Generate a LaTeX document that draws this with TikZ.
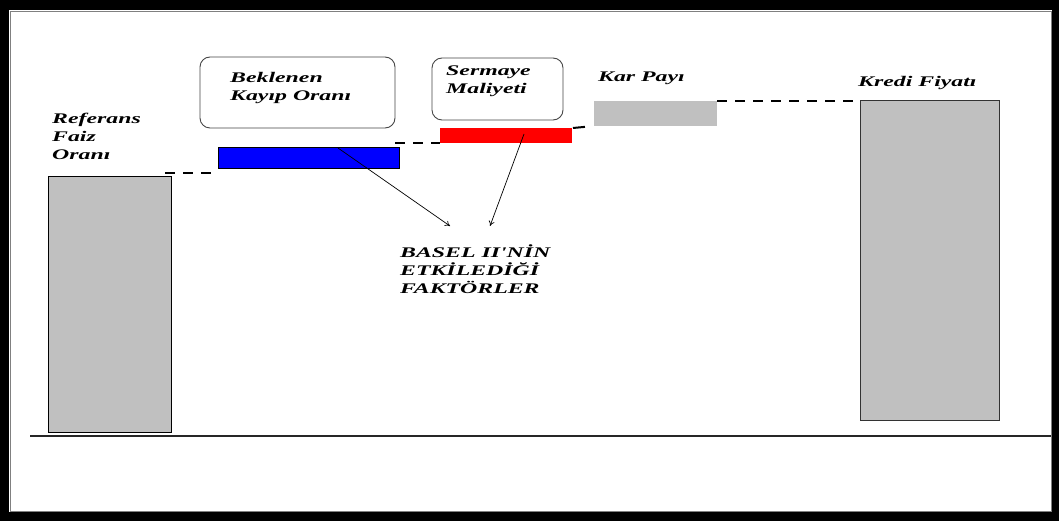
\documentclass[tikz,border=0pt]{standalone}
\usepackage{fontspec}
\setmainfont{Liberation Serif}[Ligatures=TeXOff]
\usetikzlibrary{arrows.meta}
\definecolor{barblue}{RGB}{0,0,255}
\definecolor{barred}{RGB}{255,0,0}
\definecolor{bargray}{RGB}{192,192,192}
\definecolor{boxline}{RGB}{70,70,70}
\newcommand{\wide}[1]{\scalebox{1.7}[1.05]{#1}}
\begin{document}
\begin{tikzpicture}[x=1pt,y=-1pt,
  bar/.style={inner sep=0pt,outer sep=0pt,anchor=north west},
  labelbox/.style={draw=boxline,line width=0.9pt,rounded corners=10pt,inner sep=0pt,outer sep=0pt,anchor=north west},
  lbl/.style={font=\fontsize{14}{18}\selectfont\bfseries\itshape,inner sep=0pt,anchor=north west,align=left},
  dashline/.style={line width=2pt,dash pattern=on 10pt off 8pt},
  pointer/.style={line width=0.7pt,-{To[length=5pt,width=6pt]}}]
\useasboundingbox (0,0) rectangle (1059,521);
% frame
\fill[black] (0,0) rectangle (1059,521);
\fill[white] (9,10) rectangle (1052,512);
\draw[gray,line width=0.8pt] (10,11) rectangle (1051,511);
\draw[black!85,line width=1.8pt] (30,436) -- (1051,436);
% bars
\node[bar,fill=bargray,draw=black,line width=1pt,minimum width=123pt,minimum height=255pt] (lbar) at (48,177) {};
\node[bar,fill=bargray,draw=black!80,line width=1pt,minimum width=139pt,minimum height=319pt] (rbar) at (860,101) {};
\node[bar,fill=barblue,draw=black,line width=0.8pt,minimum width=181pt,minimum height=21pt] (blue) at (218,147) {};
\node[bar,fill=barred,minimum width=132pt,minimum height=15pt] (red) at (440,128) {};
\node[bar,fill=bargray,minimum width=123pt,minimum height=25pt] (kar) at (594,101) {};
% rounded label boxes
\node[labelbox,minimum width=195pt,minimum height=71pt] (box1) at (200,57) {};
\node[labelbox,minimum width=131pt,minimum height=62pt] (box2) at (432,58) {};
% texts
\node[lbl] (tref) at (52,113) {\wide{Referans}\\\wide{Faiz}\\\wide{Oranı}};
\node[lbl] (tbek) at (230,72) {\wide{Beklenen}\\\wide{Kayıp Oranı}};
\node[lbl] (tser) at (446,66) {\wide{Sermaye}\\\wide{Maliyeti}};
\node[lbl] (tkar) at (598,72) {\wide{Kar Payı}};
\node[lbl] (tkre) at (858,76) {\wide{Kredi Fiyatı}};
\node[lbl] (tbas) at (400,245) {\wide{BASEL II'NİN}\\\wide{ETKİLEDİĞİ}\\\wide{FAKTÖRLER}};
% dashed connectors
\coordinate (d1) at (165,173);
\draw[dashline] (d1) -- (blue.south west |- d1);
\coordinate (d2) at (395,143);
\draw[dashline] (d2) -- (red.south west);
\coordinate (d3) at (573,128);
\draw[dashline,dash pattern=on 12pt off 20pt] (d3) -- (kar.south west);
\draw[dashline] (kar.north east) -- (rbar.north west);
% pointers
\coordinate (p1s) at (338,148);
\coordinate (p1e) at (450,226);
\coordinate (p2s) at (524,134);
\coordinate (p2e) at (490,226);
\draw[pointer] (p1s) -- (p1e);
\draw[pointer] (p2s) -- (p2e);
\end{tikzpicture}
\end{document}
